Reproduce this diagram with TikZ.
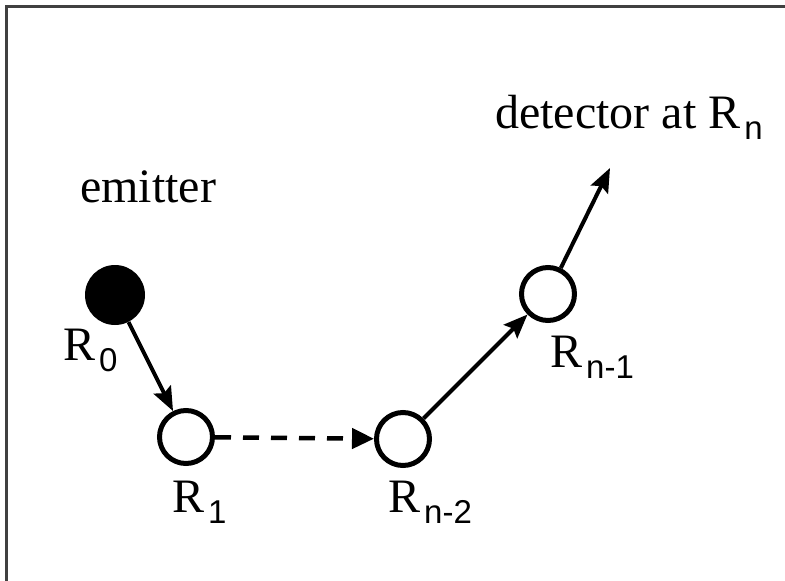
\documentclass[tikz,border=0pt]{standalone}
\usepackage{fontspec}
\setmainfont{Liberation Serif}
\setsansfont{Liberation Sans}
\usetikzlibrary{arrows.meta}
\newcommand\Rsub[1]{R\kern4pt\raisebox{-11pt}{\sffamily\fontsize{33}{35}\selectfont #1}}
\tikzset{
  frameline/.style={draw=black!75, line width=3pt},
  ring/.style={circle, draw=black, line width=5pt, minimum size=53pt, inner sep=0pt, fill=white},
  emit/.style={circle, fill=black, minimum size=60pt, inner sep=0pt},
  lbl/.style={anchor=base west, inner sep=0pt, font=\fontsize{48}{52}\selectfont},
  arr/.style={line width=4pt, -{Stealth[length=24pt,width=19pt,inset=4pt]}},
  darr/.style={line width=4.5pt, dash pattern=on 16pt off 12pt, -{Triangle[length=22pt,width=20pt]}}
}
\begin{document}
\begin{tikzpicture}[x=1pt,y=-1pt]
\useasboundingbox (0,0) rectangle (785,581);
\fill[white] (0,0) rectangle (785,581);
\draw[frameline] (786,6) -- (6,6) -- (6,582);
\node[emit] (r0) at (115,295) {};
\node[ring] (r1) at (186,437) {};
\node[ring] (rn2) at (403,439) {};
\node[ring] (rn1) at (548,294) {};
\coordinate (det) at (610,168);
\draw[arr] (r0) -- (r1);
\draw[darr] (r1) -- (rn2);
\draw[arr] (rn2) -- (rn1);
\draw[arr] (rn1) -- (det);
\node[lbl] (lemit) at (80,202) {emitter};
\node[lbl] (ldet) at (495,128) {detector at \Rsub{n}};
\node[lbl] (l0) at (63,360) {\Rsub{0}};
\node[lbl] (l1) at (172,512) {\Rsub{1}};
\node[lbl] (ln2) at (388,512) {\Rsub{n-2}};
\node[lbl] (ln1) at (550,367) {\Rsub{n-1}};
\end{tikzpicture}
\end{document}
